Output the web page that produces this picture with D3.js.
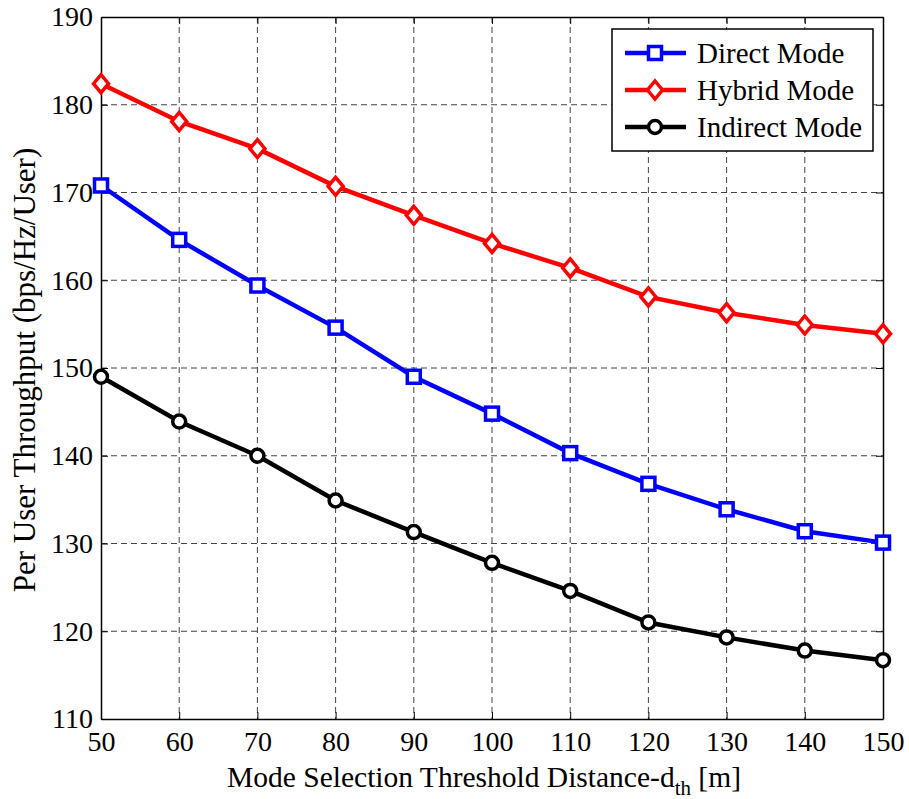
<!DOCTYPE html>
<html>
<head>
<meta charset="utf-8">
<script src="https://cdn.jsdelivr.net/npm/d3@7"></script>
<style>
  body { margin: 0; background: #fff; }
  text { font-family: "Liberation Serif", "Times New Roman", serif; fill: #000; }
  .grid line { stroke: #444; stroke-dasharray: 6,4; stroke-width: 1; }
</style>
</head>
<body>
<script>
// data
var distance = [50, 60, 70, 80, 90, 100, 110, 120, 130, 140, 150];
var direct   = [170.8, 164.6, 159.4, 154.6, 149.0, 144.8, 140.3, 136.8, 133.9, 131.4, 130.1];
var hybrid   = [182.4, 178.1, 175.0, 170.7, 167.4, 164.2, 161.4, 158.1, 156.3, 154.9, 153.9];
var indirect = [149.0, 143.9, 140.0, 134.9, 131.3, 127.8, 124.6, 121.0, 119.3, 117.8, 116.7];
var xTicks = [50, 60, 70, 80, 90, 100, 110, 120, 130, 140, 150];
var yTicks = [110, 120, 130, 140, 150, 160, 170, 180, 190];
var seriesNames = ["Direct Mode", "Hybrid Mode", "Indirect Mode"];

var margin = {top: 17, right: 26, bottom: 80, left: 101},
    width = 909 - margin.left - margin.right,
    height = 799 - margin.top - margin.bottom;

var svg = d3.select("body").append("svg")
    .attr("width", 909)
    .attr("height", 799);

var g = svg.append("g")
    .attr("transform", "translate(" + margin.left + "," + margin.top + ")");

var x = d3.scaleLinear().domain([50, 150]).range([0, width]);
var y = d3.scaleLinear().domain([110, 190]).range([height, 0]);

// grid
g.append("g").attr("class", "grid")
  .selectAll("line").data(xTicks.slice(1, -1)).enter().append("line")
    .attr("x1", function(d) { return x(d); }).attr("x2", function(d) { return x(d); })
    .attr("y1", 0).attr("y2", height);
g.append("g").attr("class", "grid")
  .selectAll("line").data(yTicks.slice(1, -1)).enter().append("line")
    .attr("y1", function(d) { return y(d); }).attr("y2", function(d) { return y(d); })
    .attr("x1", 0).attr("x2", width);

// axes, ticks inward, box on all sides
var xAxis = g.append("g")
    .attr("transform", "translate(0," + height + ")")
    .call(d3.axisBottom(x).tickValues(xTicks).tickSizeInner(-7).tickSizeOuter(0).tickPadding(12));
var yAxis = g.append("g")
    .call(d3.axisLeft(y).tickValues(yTicks).tickSizeInner(-7).tickSizeOuter(0).tickPadding(8));
g.append("g")
    .call(d3.axisTop(x).tickValues(xTicks).tickSizeInner(-7).tickSizeOuter(0).tickFormat(""));
g.append("g")
    .attr("transform", "translate(" + width + ",0)")
    .call(d3.axisRight(y).tickValues(yTicks).tickSizeInner(-7).tickSizeOuter(0).tickFormat(""));
g.selectAll(".domain").attr("stroke", "#000").attr("stroke-width", 1.5);
g.selectAll(".tick line").attr("stroke", "#000");
xAxis.selectAll("text").style("font-size", "28px");
yAxis.selectAll("text").style("font-size", "28px");

// axis labels
var xl = svg.append("text")
    .attr("x", margin.left + width / 2 - 8)
    .attr("y", 787)
    .attr("text-anchor", "middle")
    .style("font-size", "29.5px");
xl.append("tspan").text("Mode Selection Threshold Distance-d");
xl.append("tspan").attr("dy", 8).style("font-size", "21px").text("th");
xl.append("tspan").attr("dy", -8).text(" [m]");

svg.append("text")
    .attr("transform", "translate(35,370) rotate(-90)")
    .attr("text-anchor", "middle")
    .style("font-size", "31px")
    .text("Per User Throughput (bps/Hz/User)");

var series = [
  {name: seriesNames[0], values: direct, color: "#0000ff", marker: "square"},
  {name: seriesNames[1], values: hybrid, color: "#ff0000", marker: "diamond"},
  {name: seriesNames[2], values: indirect, color: "#000000", marker: "circle"}
];

var line = d3.line()
    .x(function(d) { return x(d[0]); })
    .y(function(d) { return y(d[1]); });

function drawMarker(sel, type, color) {
  if (type === "square") {
    sel.append("rect").attr("x", -6.5).attr("y", -6.5).attr("width", 13).attr("height", 13)
      .attr("fill", "#fff").attr("stroke", color).attr("stroke-width", 3.5);
  } else if (type === "diamond") {
    sel.append("path").attr("d", "M0,-9L7.5,0L0,9L-7.5,0Z")
      .attr("fill", "#fff").attr("stroke", color).attr("stroke-width", 3.5);
  } else {
    sel.append("circle").attr("r", 6.5)
      .attr("fill", "#fff").attr("stroke", color).attr("stroke-width", 3.5);
  }
}

series.forEach(function(s) {
  var pts = distance.map(function(d, i) { return [d, s.values[i]]; });
  g.append("path")
    .datum(pts)
    .attr("fill", "none")
    .attr("stroke", s.color)
    .attr("stroke-width", 4.5)
    .attr("d", line);
  g.selectAll(".m-" + s.marker)
    .data(pts).enter().append("g")
    .attr("class", "m-" + s.marker)
    .attr("transform", function(d) { return "translate(" + x(d[0]) + "," + y(d[1]) + ")"; })
    .each(function() { drawMarker(d3.select(this), s.marker, s.color); });
});

// legend
var lg = svg.append("g").attr("transform", "translate(612,29)");
lg.append("rect").attr("width", 261).attr("height", 122)
  .attr("fill", "#fff").attr("stroke", "#000").attr("stroke-width", 1.5);
series.forEach(function(s, i) {
  var row = lg.append("g").attr("transform", "translate(0," + (24 + i * 37) + ")");
  row.append("line").attr("x1", 13).attr("x2", 74).attr("y1", 0).attr("y2", 0)
    .attr("stroke", s.color).attr("stroke-width", 4.5);
  var mk = row.append("g").attr("transform", "translate(43,0)");
  drawMarker(mk, s.marker, s.color);
  row.append("text").attr("x", 85).attr("y", 10)
    .style("font-size", "29px").text(s.name);
});
</script>
</body>
</html>
